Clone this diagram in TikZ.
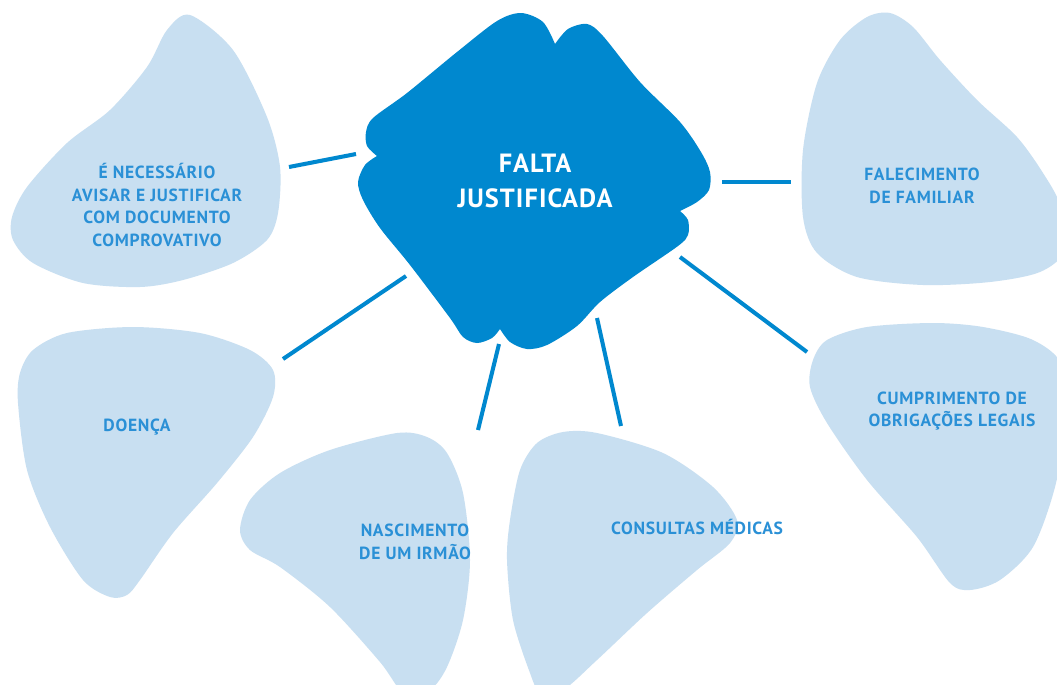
\documentclass[tikz,border=0pt]{standalone}
\usepackage{fontspec}
\newfontfamily\din[LetterSpace=4]{PT Sans}
\definecolor{dblue}{HTML}{0088CF}
\definecolor{lblue}{HTML}{C8DFF1}
\definecolor{tblue}{HTML}{2A90D6}
\begin{document}
\begin{tikzpicture}[x=0.02cm,y=-0.02cm,
  blob/.style={fill=lblue},
  link/.style={draw=dblue,line width=2.3pt},
  lbl/.style={text=tblue,font=\din\bfseries\fontsize{10}{13}\selectfont,align=center,inner sep=0pt},
  mainlbl/.style={text=white,font=\din\bfseries\fontsize{15}{19.8}\selectfont,align=center,inner sep=0pt}]
\useasboundingbox (0,0) rectangle (1057,684);
\fill[white] (0,0) rectangle (1057,684);
\clip (0,0) rectangle (1057,684);

% light blobs
\fill[blob] plot[smooth cycle] coordinates {(190,15) (233,50) (267,117) (280,167) (278,213) (267,240) (233,263) (183,280) (140,287) (83,283) (33,263) (13,240) (12,217) (27,187) (67,143) (110,110) (147,67) (167,30)};
\fill[blob] plot[smooth cycle] coordinates {(890,13) (913,27) (940,60) (977,100) (1017,137) (1043,173) (1060,205) (1065,250) (1040,272) (990,282) (923,285) (857,277) (817,253) (803,217) (803,150) (817,83) (840,40) (867,17)};
\fill[blob] plot[smooth cycle] coordinates {(33,350) (67,333) (133,327) (200,333) (250,350) (273,370) (273,397) (253,437) (217,483) (173,533) (140,580) (127,595) (110,597) (83,580) (50,527) (27,470) (18,403) (20,373)};
\fill[blob] plot[smooth cycle] coordinates {(240,530) (250,500) (280,473) (330,450) (397,433) (427,437) (447,453) (463,493) (470,560) (463,620) (447,667) (430,690) (405,695) (380,662) (330,607) (280,567) (250,550)};
\fill[blob] plot[smooth cycle] coordinates {(510,520) (520,470) (537,443) (563,432) (597,433) (663,453) (713,487) (737,520) (730,543) (697,570) (647,613) (597,660) (563,690) (540,692) (530,673) (513,620) (507,560)};
\fill[blob] plot[smooth cycle] coordinates {(813,360) (827,340) (867,327) (933,323) (983,327) (1033,340) (1062,365) (1066,420) (1055,487) (1033,547) (1000,580) (970,590) (950,583) (917,537) (867,480) (827,423) (810,387)};

% central shape
\fill[dblue]
  plot[smooth] coordinates {(377,156) (367,146) (366,132) (373,118) (407,93) (457,52) (497,21) (521,13) (543,22) (555,44)}
  -- plot[smooth] coordinates {(555,44) (568,29) (587,24) (603,36) (640,82) (680,122) (701,152) (710,172) (709,190) (697,202) (680,211)}
  -- plot[smooth] coordinates {(680,211) (688,220) (688,235) (678,246) (633,277) (600,302) (577,326) (547,345) (527,349) (510,342) (500,329)}
  -- plot[smooth] coordinates {(500,329) (492,338) (477,343) (463,337) (450,318) (410,265) (380,228) (363,200) (358,182) (365,165) (377,156)}
  -- cycle;

% nodes
\node[mainlbl] (main) at (535,181) {FALTA\\JUSTIFICADA};
\node[lbl] (aviso) at (157,205) {É NECESSÁRIO\\AVISAR E JUSTIFICAR\\COM DOCUMENTO\\COMPROVATIVO};
\node[lbl] (falec) at (922,186) {FALECIMENTO\\DE FAMILIAR};
\node[lbl] (doenca) at (137,427) {DOENÇA};
\node[lbl] (nasc) at (415,542) {NASCIMENTO\\DE UM IRMÃO};
\node[lbl] (consul) at (697,527) {CONSULTAS MÉDICAS};
\node[lbl] (cumpr) at (952,411) {CUMPRIMENTO DE\\OBRIGAÇÕES LEGAIS};

% connector ends
\coordinate (m1) at (356,154); \coordinate (a1) at (289,167);
\coordinate (m2) at (722,182); \coordinate (f1) at (791,182);
\coordinate (m3) at (406,276); \coordinate (d1) at (283,359);
\coordinate (m4) at (499,344); \coordinate (n1) at (478,430);
\coordinate (m5) at (597,318); \coordinate (c1) at (621,426);
\coordinate (m6) at (680,257); \coordinate (o1) at (807,352);

\draw[link] (m1) -- (a1);
\draw[link] (m2) -- (f1);
\draw[link] (m3) -- (d1);
\draw[link] (m4) -- (n1);
\draw[link] (m5) -- (c1);
\draw[link] (m6) -- (o1);
\end{tikzpicture}
\end{document}
